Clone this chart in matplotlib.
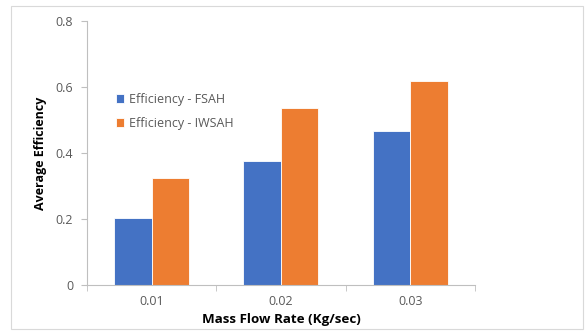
import numpy as np
import matplotlib.pyplot as plt

plt.rcParams['font.family'] = ['Open Sans', 'DejaVu Sans']

flow_rates = ['0.01', '0.02', '0.03']
eff_fsah = [0.203, 0.376, 0.466]
eff_iwsah = [0.324, 0.535, 0.617]

fig = plt.figure(figsize=(5.85, 3.31), dpi=100)
ax = fig.add_axes([0.1487, 0.139, 0.663, 0.7976])

x = np.arange(len(flow_rates))
w = 0.29
ax.bar(x - w / 2, eff_fsah, w, color='#4472C4', edgecolor='white', linewidth=0.6,
       label='Efficiency - FSAH')
ax.bar(x + w / 2, eff_iwsah, w, color='#ED7D31', edgecolor='white', linewidth=0.6,
       label='Efficiency - IWSAH')

ax.set_xlim(-0.5, 2.5)
ax.set_ylim(0, 0.8)
ax.set_yticks([0, 0.2, 0.4, 0.6, 0.8])
ax.set_yticklabels(['0', '0.2', '0.4', '0.6', '0.8'])
ax.set_xticks(x)
ax.set_xticklabels(flow_rates)
ax.set_xticks([-0.5, 0.5, 1.5, 2.5], minor=True)
ax.tick_params(axis='x', which='major', length=0, pad=7, labelsize=9, labelcolor='#595959')
ax.tick_params(axis='x', which='minor', length=4, color='#BFBFBF', direction='out')
ax.tick_params(axis='y', length=4, color='#BFBFBF', pad=6, labelsize=9, labelcolor='#595959')

for s in ['top', 'right']:
    ax.spines[s].set_visible(False)
for s in ['left', 'bottom']:
    ax.spines[s].set_color('#BFBFBF')
    ax.spines[s].set_linewidth(0.8)

ax.set_xlabel('Mass Flow Rate (Kg/sec)', fontsize=9.6, fontweight='bold', labelpad=4)
ax.set_ylabel('Average Efficiency', fontsize=9, fontweight='bold', labelpad=6)

ax.legend(loc='upper left', bbox_to_anchor=(0.045, 0.77), frameon=False, fontsize=9,
          handlelength=0.7, handleheight=0.7, handletextpad=0.4, labelspacing=0.85,
          labelcolor='#595959')

# outer chart border
fig.patches.append(plt.Rectangle((0.019, 0.006), 0.978, 0.976, transform=fig.transFigure,
                                 fill=False, edgecolor='#D9D9D9', linewidth=0.8))

fig.savefig('out.png', dpi=100)
